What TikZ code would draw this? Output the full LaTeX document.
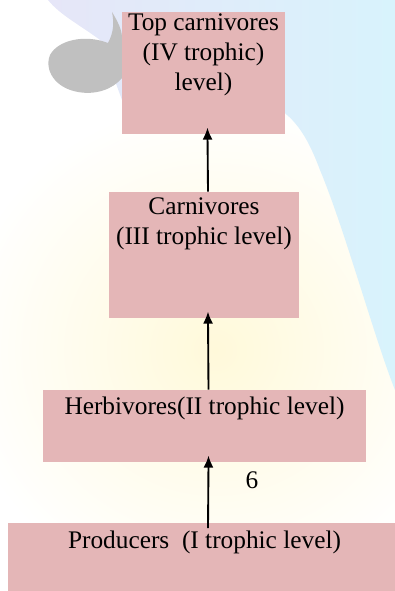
\documentclass[tikz,border=0pt]{standalone}
\usepackage{fontspec}
\setmainfont{Liberation Serif}
\usetikzlibrary{arrows.meta}
\definecolor{levelpink}{RGB}{228,182,183}
\definecolor{washblue}{RGB}{216,243,252}
\definecolor{washlilac}{RGB}{230,230,248}
\definecolor{washyellow}{RGB}{255,249,218}
\definecolor{blobgray}{RGB}{192,192,192}

\tikzset{
  levelbox/.style={fill=levelpink,inner sep=0pt},
  leveltext/.style={align=center,font=\fontsize{19}{22.5}\selectfont,inner sep=0pt},
  flowarrow/.style={-{Latex[length=9pt,width=7.5pt]},line width=1.4pt,shorten >=-5pt}
}

\begin{document}
\begin{tikzpicture}[x=0.75pt,y=-0.75pt]
\useasboundingbox (0,0) rectangle (395,591);
\shade[inner color=washyellow,outer color=white] (215,350) ellipse (260 and 250);
\shade[left color=washlilac,right color=washblue]
  (48,0) -- (395,0) -- (395,390) .. controls (375,340) and (345,230) .. (320,170)
  .. controls (305,130) and (290,110) .. (260,100) -- (122,100) -- (100,40)
  .. controls (80,25) and (60,15) .. (48,0);
\fill[blobgray] (112,12) .. controls (118,22) and (122,30) .. (122,38) -- (122,78)
  .. controls (112,90) and (95,95) .. (78,92) .. controls (55,88) and (44,70) .. (50,55)
  .. controls (58,40) and (85,34) .. (108,43) .. controls (114,32) and (114,22) .. (112,12);

\node[levelbox,minimum width=122.25pt,minimum height=91.5pt] (top) at (203.5,73) {};
\node[levelbox,minimum width=142.5pt,minimum height=94.5pt] (carn) at (204,255) {};
\node[levelbox,minimum width=242.25pt,minimum height=54pt] (herb) at (204.5,426) {};
\node[levelbox,minimum width=294pt,minimum height=54pt] (prod) at (204,559) {};

\node[leveltext] (toptext) at (203.5,55) {Top carnivores\\(IV trophic)\\level)};
\node[leveltext] (carntext) at (204,224) {Carnivores\\(III trophic level)};
\node[leveltext] (herbtext) at (204.5,408) {Herbivores(II trophic level)};
\node[leveltext] (prodtext) at (204.5,542) {Producers~~(I trophic level)};

\draw[flowarrow] ([xshift=3pt]carn.north) -- ([xshift=3pt]top.south);
\draw[flowarrow] ([xshift=3pt]herb.north) -- ([xshift=3pt]carn.south);
\draw[flowarrow] ([xshift=3pt,yshift=-4pt]prod.north) -- ([xshift=3pt]herb.south);
\node[leveltext] (gain) at (252,480) {6};
\end{tikzpicture}
\end{document}
